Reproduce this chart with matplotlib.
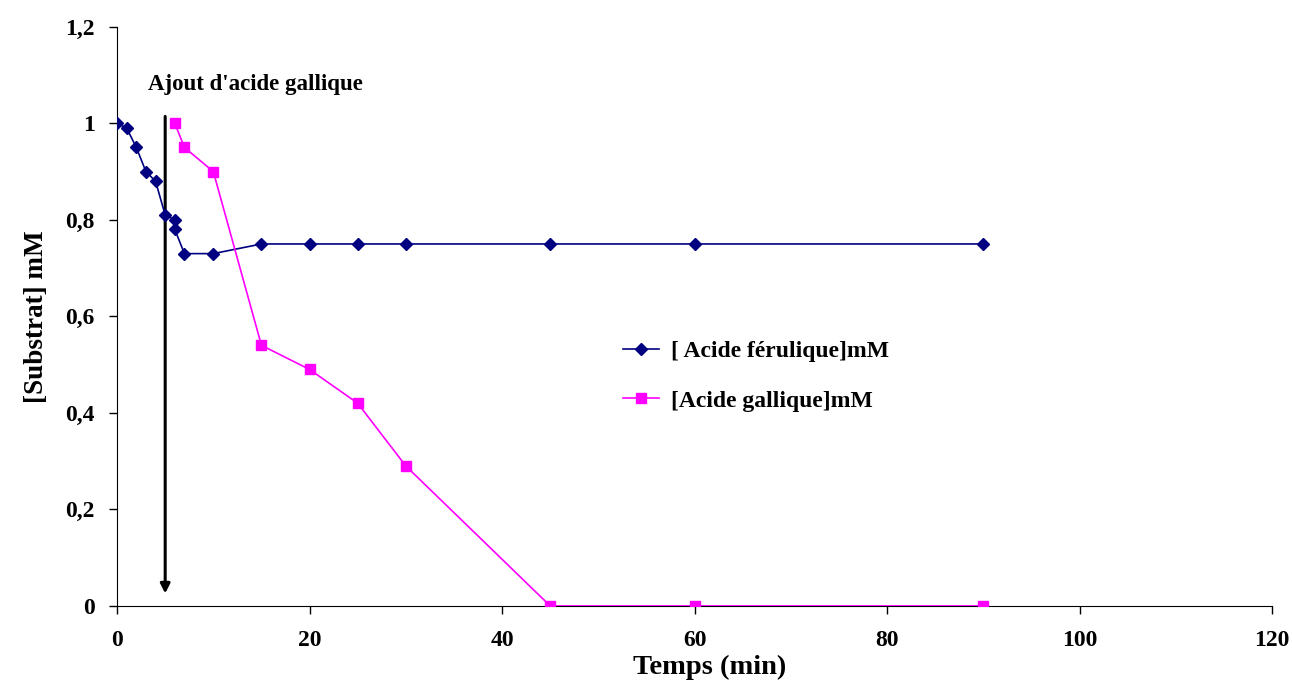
import matplotlib
matplotlib.use("Agg")
import matplotlib.pyplot as plt
from matplotlib.ticker import FuncFormatter

plt.rcParams['font.family'] = ['Liberation Serif', 'DejaVu Serif']
plt.rcParams['font.weight'] = 'bold'

# [Acide férulique] mM
t_fer = [0, 1, 2, 3, 4, 5, 6, 6, 7, 10, 15, 20, 25, 30, 45, 60, 90]
c_fer = [1.0, 0.99, 0.95, 0.90, 0.88, 0.81, 0.80, 0.78, 0.73, 0.73, 0.75, 0.75, 0.75, 0.75, 0.75, 0.75, 0.75]

# [Acide gallique] mM
t_gal = [6, 7, 10, 15, 20, 25, 30, 45, 60, 90]
c_gal = [1.0, 0.95, 0.90, 0.54, 0.49, 0.42, 0.29, 0.0, 0.0, 0.0]

t_ajout = 5

fig = plt.figure(figsize=(12.92, 6.87), dpi=100)
ax = fig.add_axes([0.0906, 0.118, 0.894, 0.843])

ax.plot(t_fer, c_fer, color="#000080", marker="D", markersize=6.5, linewidth=1.2,
        label="[ Acide férulique]mM", zorder=3)
ax.plot(t_gal, c_gal, color="#FF00FF", marker="s", markersize=6.5, linewidth=1.2,
        label="[Acide gallique]mM", zorder=3)

# fleche d'ajout
ax.annotate("", xy=(t_ajout, 0.02), xytext=(t_ajout, 1.02),
            arrowprops=dict(arrowstyle="-|>", color="black", lw=2.2, mutation_scale=14), zorder=2)
ax.text(3.2, 1.08, "Ajout d'acide gallique", fontsize=16.5, fontweight="bold", va="center", ha="left")

ax.set_xlim(0, 120)
ax.set_ylim(0, 1.2)
ax.set_xticks(range(0, 121, 20))
ax.set_yticks([0, 0.2, 0.4, 0.6, 0.8, 1.0, 1.2])
ax.yaxis.set_major_formatter(FuncFormatter(lambda v, p: f"{v:g}".replace(".", ",")))
ax.tick_params(labelsize=17, length=6, width=1, direction="out")
ax.tick_params(axis="x", pad=11)
ax.tick_params(axis="y", pad=10)
ax.spines["top"].set_visible(False)
ax.spines["right"].set_visible(False)

ax.set_xlabel("Temps (min)", fontsize=20.5, fontweight="bold", labelpad=3)
ax.xaxis.label.set_x(0.513)
ax.set_ylabel("[Substrat] mM", fontsize=19.5, fontweight="bold", labelpad=12)

ax.legend(loc="center left", bbox_to_anchor=(0.42, 0.397), frameon=False, fontsize=17,
          handlelength=1.5, handletextpad=0.5, labelspacing=1.2)

fig.savefig("out.png", dpi=100)
